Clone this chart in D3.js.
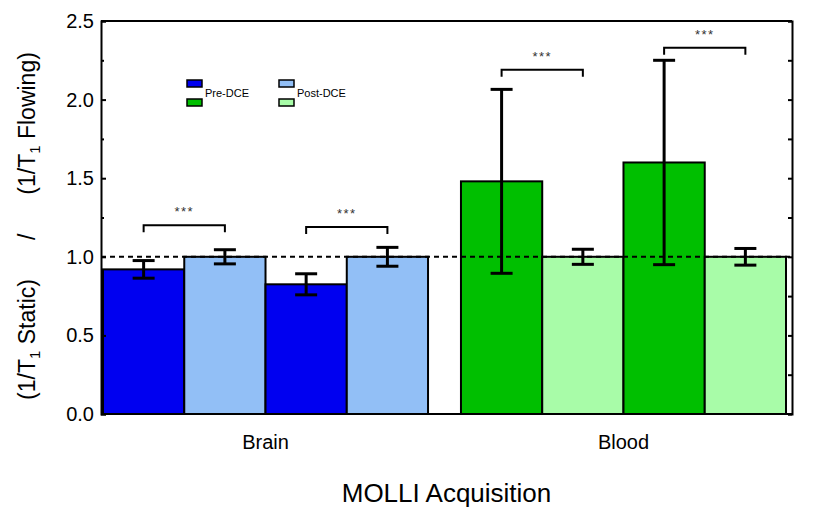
<!DOCTYPE html>
<html>
<head>
<meta charset="utf-8">
<script src="https://cdn.jsdelivr.net/npm/d3@7"></script>
<style>
  body { margin: 0; background: #fff; }
  text { font-family: Arial, "Liberation Sans", sans-serif; }
</style>
</head>
<body>
<svg class="chart"></svg>
<script>
var width = 822,
    height = 519;

// data
var groups = ["Brain", "Blood"];
var seriesKeys = ["pre1", "post1", "pre2", "post2"];
var seriesPhase = ["Pre-DCE", "Post-DCE", "Pre-DCE", "Post-DCE"];
var brainMeans = [0.92, 1.00, 0.825, 1.00];
var brainErrs = [0.056, 0.045, 0.067, 0.06];
var bloodMeans = [1.48, 1.00, 1.60, 1.00];
var bloodErrs = [0.585, 0.048, 0.65, 0.053];
var sigPairs = [[0, 1], [2, 3]];
var brainSigY = [1.20, 1.19];
var bloodSigY = [2.19, 2.33];
var sigLabel = "***";
var yTicks = [0, 0.5, 1.0, 1.5, 2.0, 2.5];
var yMinorTicks = [0.25, 0.75, 1.25, 1.75, 2.25];
var refLine = 1.0;
var legendLabels = ["Pre-DCE", "Post-DCE"];

var colors = {
  Brain: {"Pre-DCE": "#0000f0", "Post-DCE": "#92bff6"},
  Blood: {"Pre-DCE": "#00bf00", "Post-DCE": "#a8fca8"}
};

// plot frame (window.top is reserved, so own names)
var plotL = 101, plotR = 792, plotT = 21, plotB = 414;

var svg = d3.select(".chart")
    .attr("width", width)
    .attr("height", height);

var y = d3.scaleLinear().domain([0, 2.5]).range([plotB, plotT]);
var x0 = d3.scaleBand().domain(groups).range([103, 786]).paddingInner(0.092);
var x1 = d3.scaleBand().domain(seriesKeys).range([0, x0.bandwidth()]);

var rows = [];
groups.forEach(function(g) {
  var means = g == "Brain" ? brainMeans : bloodMeans;
  var errs = g == "Brain" ? brainErrs : bloodErrs;
  for (var i = 0; i < seriesKeys.length; i++) {
    rows.push({group: g, key: seriesKeys[i], phase: seriesPhase[i], value: means[i], err: errs[i]});
  }
});

// bars
svg.append("g").selectAll("rect")
    .data(rows)
  .enter().append("rect")
    .attr("x", function(d) { return x0(d.group) + x1(d.key); })
    .attr("y", function(d) { return y(d.value); })
    .attr("width", x1.bandwidth())
    .attr("height", function(d) { return y(0) - y(d.value); })
    .attr("fill", function(d) { return colors[d.group][d.phase]; })
    .attr("stroke", "#000")
    .attr("stroke-width", 2);

// dashed reference line
svg.append("line")
    .attr("x1", plotL).attr("x2", plotR)
    .attr("y1", y(refLine)).attr("y2", y(refLine))
    .attr("stroke", "#000")
    .attr("stroke-width", 2)
    .attr("stroke-dasharray", "5,4");

// error bars
var eb = svg.append("g").selectAll("g")
    .data(rows)
  .enter().append("g")
    .attr("transform", function(d) { return "translate(" + (x0(d.group) + x1(d.key) + x1.bandwidth() / 2) + ",0)"; })
    .attr("stroke", "#000")
    .attr("stroke-width", 3);
eb.append("line")
    .attr("y1", function(d) { return y(d.value + d.err); })
    .attr("y2", function(d) { return y(d.value - d.err); });
eb.append("line")
    .attr("x1", -11).attr("x2", 11)
    .attr("y1", function(d) { return y(d.value + d.err); })
    .attr("y2", function(d) { return y(d.value + d.err); });
eb.append("line")
    .attr("x1", -11).attr("x2", 11)
    .attr("y1", function(d) { return y(d.value - d.err); })
    .attr("y2", function(d) { return y(d.value - d.err); });

// significance brackets
var sigs = [];
groups.forEach(function(g) {
  var hs = g == "Brain" ? brainSigY : bloodSigY;
  sigPairs.forEach(function(p, i) {
    sigs.push({group: g, a: seriesKeys[p[0]], b: seriesKeys[p[1]], h: hs[i]});
  });
});
var sg = svg.append("g").selectAll("g")
    .data(sigs)
  .enter().append("g");
sg.append("path")
    .attr("fill", "none")
    .attr("stroke", "#000")
    .attr("stroke-width", 2)
    .attr("d", function(d) {
      var xa = x0(d.group) + x1(d.a) + x1.bandwidth() / 2,
          xb = x0(d.group) + x1(d.b) + x1.bandwidth() / 2,
          yy = y(d.h);
      return "M" + xa + "," + (yy + 7) + "V" + yy + "H" + xb + "V" + (yy + 7);
    });
sg.append("text")
    .attr("x", function(d) { return (x0(d.group) + x1(d.a) + x0(d.group) + x1(d.b) + x1.bandwidth()) / 2; })
    .attr("y", function(d) { return y(d.h) - 9; })
    .attr("text-anchor", "middle")
    .attr("font-size", 13)
    .attr("letter-spacing", 1.5)
    .attr("fill", "#333")
    .text(sigLabel);

// axes
var axL = svg.append("g")
    .attr("transform", "translate(" + plotL + ",0)")
    .call(d3.axisLeft(y).tickValues(yTicks).tickSize(-5).tickPadding(7).tickFormat(d3.format(".1f")));
axL.selectAll("text").attr("font-size", 20).attr("fill", "#000").style("font-family", "Arial, 'Liberation Sans', sans-serif");
svg.append("g")
    .attr("transform", "translate(" + plotL + ",0)")
    .call(d3.axisLeft(y).tickValues(yMinorTicks).tickSize(-3).tickFormat(""))
    .select(".domain").remove();
svg.append("g")
    .attr("transform", "translate(" + plotR + ",0)")
    .call(d3.axisRight(y).tickValues(yTicks.concat(yMinorTicks)).tickSize(-4).tickFormat(""));
svg.selectAll(".domain, .tick line").attr("stroke", "#000").attr("stroke-width", 2);

svg.append("line").attr("x1", plotL).attr("x2", plotR).attr("y1", plotT).attr("y2", plotT)
    .attr("stroke", "#000").attr("stroke-width", 2);
svg.append("line").attr("x1", plotL).attr("x2", plotR).attr("y1", plotB).attr("y2", plotB)
    .attr("stroke", "#000").attr("stroke-width", 2);

// group labels
svg.append("g").selectAll("text")
    .data(groups)
  .enter().append("text")
    .attr("x", function(d) { return x0(d) + x0.bandwidth() / 2; })
    .attr("y", 449)
    .attr("text-anchor", "middle")
    .attr("font-size", 20)
    .text(function(d) { return d; });

svg.append("text")
    .attr("x", (plotL + plotR) / 2)
    .attr("y", 502)
    .attr("text-anchor", "middle")
    .attr("font-size", 26)
    .text("MOLLI Acquisition");

// y title
var yt = svg.append("text")
    .attr("transform", "translate(35,226) rotate(-90)")
    .attr("text-anchor", "middle")
    .attr("font-size", 23);
yt.append("tspan").text("(1/T");
yt.append("tspan").attr("font-size", 15).attr("dy", 5).text("1");
yt.append("tspan").attr("dy", -5).text(" Static)");
yt.append("tspan").attr("dx", 39).text("/");
yt.append("tspan").attr("dx", 39).text("(1/T");
yt.append("tspan").attr("font-size", 15).attr("dy", 5).text("1");
yt.append("tspan").attr("dy", -5).text(" Flowing)");

// legend
var lg = svg.append("g").selectAll("g")
    .data(legendLabels)
  .enter().append("g")
    .attr("transform", function(d, i) { return "translate(" + (187 + i * 92) + ",80)"; });
lg.append("rect").attr("width", 15).attr("height", 7)
    .attr("fill", function(d) { return colors.Brain[d]; })
    .attr("stroke", "#000").attr("stroke-width", 1.5);
lg.append("rect").attr("y", 19).attr("width", 15).attr("height", 7)
    .attr("fill", function(d) { return colors.Blood[d]; })
    .attr("stroke", "#000").attr("stroke-width", 1.5);
lg.append("text").attr("x", 18).attr("y", 17)
    .attr("font-size", 11)
    .text(function(d) { return d; });
</script>
</body>
</html>
